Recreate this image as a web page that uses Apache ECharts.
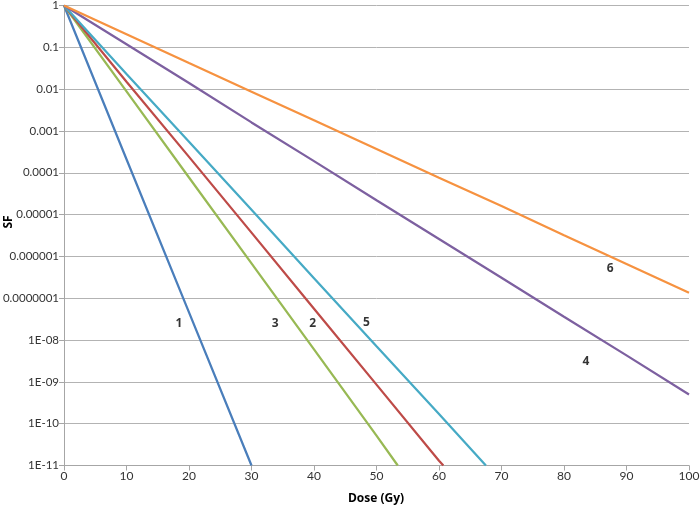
<!DOCTYPE html>
<html>
<head>
<meta charset="utf-8">
<script src="https://cdn.jsdelivr.net/npm/echarts@6/dist/echarts.min.js"></script>
<style>
html,body{margin:0;padding:0;background:#fff;}
#chart{width:700px;height:506px;}
</style>
</head>
<body>
<div id="chart"></div>
<script>
// ---- data (dose in Gy, surviving fraction) ----
var xTicks = [0, 10, 20, 30, 40, 50, 60, 70, 80, 90, 100];
var yTickLabels = ['1', '0.1', '0.01', '0.001', '0.0001', '0.00001', '0.000001', '0.0000001', '1E-08', '1E-09', '1E-10', '1E-11'];

var curve1 = [[0, 1], [10, 2.1e-4], [20, 4.6e-8], [30, 1e-11]];
var curve3 = [[0, 1], [10, 8.8e-3], [20, 7.7e-5], [30, 6.8e-7], [40, 6.0e-9], [50, 5.2e-11], [53.4, 1e-11]];
var curve2 = [[0, 1], [10, 1.5e-2], [20, 2.4e-4], [30, 3.7e-6], [40, 5.6e-8], [50, 8.6e-10], [60, 1.3e-11], [60.7, 1e-11]];
var curve5 = [[0, 1], [10, 2.3e-2], [20, 5.5e-4], [30, 1.3e-5], [40, 3.0e-7], [50, 7.1e-9], [60, 1.7e-10], [67.5, 1e-11]];
var curve4 = [[0, 1], [10, 0.118], [20, 1.4e-2], [30, 1.6e-3], [40, 1.9e-4], [50, 2.2e-5], [60, 2.6e-6], [70, 3.1e-7], [80, 3.6e-8], [90, 4.3e-9], [100, 5.0e-10]];
var curve6 = [[0, 1], [10, 0.206], [20, 4.2e-2], [30, 8.7e-3], [40, 1.8e-3], [50, 3.7e-4], [60, 7.6e-5], [70, 1.6e-5], [80, 3.2e-6], [90, 6.6e-7], [100, 1.35e-7]];

// curve labels: [dose, SF, text]
var curveLabels = [
  [18.4, 2.5e-8, '1'],
  [33.8, 2.5e-8, '3'],
  [39.8, 2.5e-8, '2'],
  [48.4, 2.6e-8, '5'],
  [83.5, 3.0e-9, '4'],
  [87.4, 5.1e-7, '6']
];

var xName = 'Dose (Gy)';
var yName = 'SF';

var colors = ['#4A7EBB', '#98B954', '#BE4B48', '#46AAC5', '#7D60A0', '#F69240'];
var seriesData = [curve1, curve3, curve2, curve5, curve4, curve6];

var chart = echarts.init(document.getElementById('chart'), null, {renderer: 'canvas'});
var FONT = 'Lato, "Open Sans", sans-serif';
var BFONT = '"Open Sans", Lato, sans-serif';

var series = seriesData.map(function (d, i) {
  return {
    type: 'line',
    data: d,
    showSymbol: false,
    symbol: 'none',
    lineStyle: {color: colors[i], width: 2.25},
    itemStyle: {color: colors[i]},
    animation: false,
    z: 3
  };
});

series.push({
  type: 'scatter',
  data: curveLabels.map(function (l) { return {value: [l[0], l[1]], name: l[2]}; }),
  symbolSize: 0,
  itemStyle: {color: 'rgba(0,0,0,0)'},
  label: {
    show: true,
    position: 'inside',
    formatter: function (p) { return p.name; },
    color: '#000',
    fontWeight: 'bold',
    fontSize: 12,
    fontFamily: BFONT
  },
  silent: true,
  animation: false,
  z: 4
});

chart.setOption({
  backgroundColor: '#fff',
  animation: false,
  grid: {left: 64, right: 11, top: 5.5, bottom: 40.5, containLabel: false, outerBoundsMode: 'none'},
  xAxis: {
    type: 'value',
    min: 0, max: 100, interval: 10,
    axisLine: {show: true, lineStyle: {color: '#a6a6a6', width: 1}},
    axisTick: {show: true, length: 5, lineStyle: {color: '#a6a6a6'}},
    splitLine: {show: false},
    axisLabel: {
      color: '#333', fontSize: 12, fontFamily: FONT, margin: 5,
      formatter: function (v) { return xTicks.indexOf(v) >= 0 ? String(v) : ''; }
    }
  },
  yAxis: {
    type: 'log',
    logBase: 10,
    min: 1e-11, max: 1,
    interval: 1,
    axisLine: {show: true, lineStyle: {color: '#a6a6a6', width: 1}},
    axisTick: {show: true, length: 5, lineStyle: {color: '#a6a6a6'}},
    splitLine: {show: true, lineStyle: {color: '#b3b3b3', width: 1}},
    minorTick: {show: false},
    axisLabel: {
      color: '#333', fontSize: 11.5, fontFamily: FONT, margin: 5,
      formatter: function (v) {
        var k = Math.round(-Math.log(v) / Math.LN10);
        return yTickLabels[k] !== undefined ? yTickLabels[k] : '';
      }
    }
  },
  graphic: [
    {type: 'text', x: 376, y: 499, style: {text: xName, font: 'bold 12px ' + BFONT, fill: '#000', textAlign: 'center', textVerticalAlign: 'middle'}},
    {type: 'text', x: 9, y: 222, rotation: Math.PI / 2, style: {text: yName, font: 'bold 12px ' + BFONT, fill: '#000', textAlign: 'center', textVerticalAlign: 'middle'}}
  ],
  series: series
});
</script>
</body>
</html>
